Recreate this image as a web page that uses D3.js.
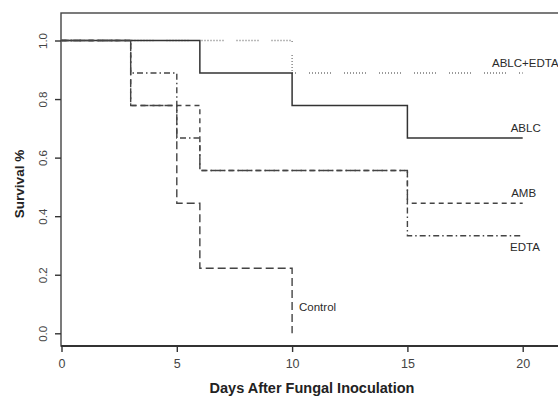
<!DOCTYPE html>
<html>
<head>
<meta charset="utf-8">
<script src="https://cdn.jsdelivr.net/npm/d3@7"></script>
<style>
  body { margin: 0; background: #fff; }
  svg { display: block; font-family: "Liberation Sans", Arial, sans-serif; }
</style>
</head>
<body>
<svg id="chart" width="558" height="396"></svg>
<script>
// Kaplan-Meier step data (day of change, survival from that day on)
const ablcDays = [0, 6, 10, 15, 20];
const ablcSurvival = [1.0, 0.889, 0.778, 0.667, 0.667];

const comboDays = [0, 10, 20];
const comboSurvival = [1.0, 0.889, 0.889];

const ambDays = [0, 3, 6, 15, 20];
const ambSurvival = [1.0, 0.778, 0.556, 0.444, 0.444];

const edtaDays = [0, 3, 5, 6, 15, 20];
const edtaSurvival = [1.0, 0.889, 0.667, 0.556, 0.333, 0.333];

const controlDays = [0, 3, 5, 6, 10];
const controlSurvival = [1.0, 0.778, 0.444, 0.222, 0.0];

// Axis ticks
const xTicks = [0, 5, 10, 15, 20];
const yTicks = [0.0, 0.2, 0.4, 0.6, 0.8, 1.0];

// Series names, in drawing order
const seriesNames = ['ABLC+EDTA', 'ABLC', 'AMB', 'EDTA', 'Control'];

// Layout
const LAYOUT = {
    x0: 61.5, x20: 522.7,     // pixel of day 0 and day 20
    y0: 333.3, y1: 40.5,      // pixel of survival 0 and 1
    box: { left: 61, top: 13, right: 566, bottom: 346 }
};

// Line styles per series
const STYLES = {
    'ABLC+EDTA': { dash: '1,2,1,2,1,2,1,2,1,2,1,2,1,2,1,13', color: '#777', width: 1.3 },
    'ABLC': { dash: null, color: '#333', width: 1.5 },
    'AMB': { dash: '5,4', color: '#444', width: 1.4 },
    'EDTA': { dash: '6,3,1.5,3', color: '#444', width: 1.4 },
    'Control': { dash: '8,4', color: '#444', width: 1.4 }
};

// Label anchors in data units (day, survival)
const LABEL_POS = {
    'ABLC+EDTA': [18.67, 0.923],
    'ABLC': [19.48, 0.701],
    'AMB': [19.5, 0.479],
    'EDTA': [19.45, 0.295],
    'Control': [10.3, 0.091]
};

const series = {
    'ABLC+EDTA': [comboDays, comboSurvival],
    'ABLC': [ablcDays, ablcSurvival],
    'AMB': [ambDays, ambSurvival],
    'EDTA': [edtaDays, edtaSurvival],
    'Control': [controlDays, controlSurvival]
};

function drawChart() {
    const svg = d3.select('#chart');

    const x = d3.scaleLinear().domain([0, 20]).range([LAYOUT.x0, LAYOUT.x20]);
    const y = d3.scaleLinear().domain([0, 1]).range([LAYOUT.y0, LAYOUT.y1]);

    const b = LAYOUT.box;

    // Frame (top, left, bottom; right side runs off the picture)
    svg.append('rect')
        .attr('x', b.left).attr('y', b.top)
        .attr('width', b.right - b.left).attr('height', b.bottom - b.top)
        .attr('fill', 'none')
        .attr('stroke', '#444')
        .attr('stroke-width', 1.4);
    svg.append('line')
        .attr('x1', b.left).attr('x2', b.right)
        .attr('y1', b.bottom).attr('y2', b.bottom)
        .attr('stroke', '#333').attr('stroke-width', 2);

    // X axis
    const xAxis = svg.append('g')
        .attr('transform', `translate(0,${b.bottom})`)
        .call(d3.axisBottom(x).tickValues(xTicks).tickSize(6).tickPadding(7)
            .tickFormat(d3.format('d')));
    xAxis.select('.domain').remove();
    xAxis.selectAll('line').attr('stroke', '#333').attr('stroke-width', 1.4);
    xAxis.selectAll('text')
        .attr('font-size', 12.5)
        .attr('fill', '#444')
        .attr('font-family', '"Liberation Sans", Arial, sans-serif');

    // Y axis with rotated labels
    const yAxis = svg.append('g')
        .attr('transform', `translate(${b.left},0)`)
        .call(d3.axisLeft(y).tickValues(yTicks).tickSize(6)
            .tickFormat(d3.format('.1f')));
    yAxis.select('.domain').remove();
    yAxis.selectAll('line').attr('stroke', '#333').attr('stroke-width', 1.4);
    yAxis.selectAll('text')
        .attr('x', null).attr('dy', null)
        .attr('text-anchor', 'middle')
        .attr('dominant-baseline', 'central')
        .attr('transform', 'translate(-18,0) rotate(-90)')
        .attr('font-size', 11.5)
        .attr('fill', '#444')
        .attr('font-family', '"Liberation Sans", Arial, sans-serif');

    // Axis titles
    svg.append('text')
        .attr('x', 312).attr('y', 393)
        .attr('text-anchor', 'middle')
        .attr('font-size', 14.5)
        .attr('font-weight', 'bold')
        .attr('fill', '#222')
        .text('Days After Fungal Inoculation');

    svg.append('text')
        .attr('transform', 'translate(19,184) rotate(-90)')
        .attr('text-anchor', 'middle')
        .attr('dominant-baseline', 'central')
        .attr('font-size', 13.5)
        .attr('font-weight', 'bold')
        .attr('fill', '#222')
        .text('Survival %');

    // Step curves
    const line = d3.line()
        .x(d => x(d[0]))
        .y(d => y(d[1]))
        .curve(d3.curveStepAfter);

    seriesNames.forEach(name => {
        const [days, surv] = series[name];
        const pts = days.map((d, i) => [d, surv[i]]);
        const st = STYLES[name];
        svg.append('path')
            .datum(pts)
            .attr('d', line)
            .attr('fill', 'none')
            .attr('stroke', st.color)
            .attr('stroke-width', st.width)
            .attr('stroke-dasharray', st.dash);
    });

    // Curve labels
    seriesNames.forEach(name => {
        const [d, s] = LABEL_POS[name];
        svg.append('text')
            .attr('x', x(d)).attr('y', y(s))
            .attr('dominant-baseline', 'central')
            .attr('font-size', 11.5)
            .attr('fill', '#2a2a2a')
            .text(name);
    });
}

document.addEventListener('DOMContentLoaded', drawChart);
</script>
</body>
</html>
